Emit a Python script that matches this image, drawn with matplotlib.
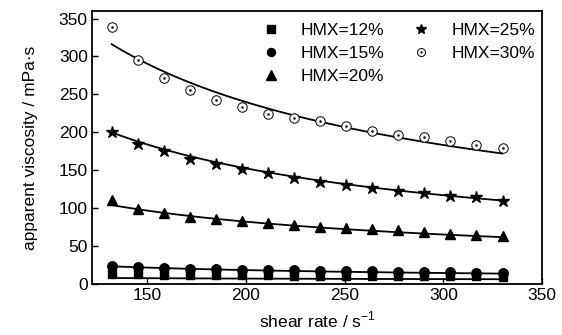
import numpy as np
import matplotlib
matplotlib.use('Agg')
from matplotlib import pyplot as plt
from matplotlib.legend_handler import HandlerTuple

plt.rcParams['font.family'] = ['Liberation Sans', 'DejaVu Sans']
plt.rcParams['mathtext.fontset'] = 'custom'
plt.rcParams['mathtext.rm'] = 'Liberation Sans'

# shear rate (s^-1)
shear = [132, 145.2, 158.4, 171.6, 184.8, 198, 211.2, 224.4, 237.6,
         250.8, 264, 277.2, 290.4, 303.6, 316.8, 330]

# apparent viscosity (mPa·s)
hmx12 = [13.0, 12.6, 12.3, 12.0, 11.8, 11.5, 11.3, 11.1, 11.0,
         10.8, 10.6, 10.5, 10.3, 10.2, 10.0, 9.8]
hmx15 = [23.5, 22.3, 21.3, 20.4, 19.6, 19.0, 18.4, 17.9, 17.4,
         16.9, 16.5, 16.0, 15.6, 15.2, 14.8, 14.4]
hmx20 = [111.0, 99.5, 93.4, 88.5, 85.9, 83.6, 80.6, 77.9, 74.9,
         73.6, 72.3, 70.9, 69.1, 66.4, 65.1, 63.8]
hmx25 = [200.4, 184.9, 174.8, 165.1, 158.5, 151.5, 146.2, 139.6, 135.1,
         129.9, 127.2, 123.2, 120.5, 116.6, 114.5, 110.0]
hmx30 = [339.1, 295.9, 271.2, 255.9, 242.7, 233.8, 224.6, 218.9, 214.4,
         208.7, 202.1, 196.8, 193.3, 188.5, 183.6, 179.2]

labels = ['HMX=12%', 'HMX=15%', 'HMX=20%', 'HMX=25%', 'HMX=30%']

# power-law fit curves: eta = K * rate^(n-1)
fit_K = [26.0, 394.0, 1675.0, 4826.0, 8090.0]
fit_n = [0.756, 0.421, 0.431, 0.348, 0.336]

fig = plt.figure(figsize=(5.62, 3.35), dpi=100)
ax = fig.add_axes([0.1637, 0.1522, 0.8007, 0.815])

gg = np.linspace(shear[0], shear[-1], 200)
for K, n in zip(fit_K, fit_n):
    ax.plot(gg, K * gg ** (n - 1), color='black', lw=1.3, zorder=2)

h12, = ax.plot(shear, hmx12, 's', color='black', ms=6.2, zorder=3)
h15, = ax.plot(shear, hmx15, 'o', color='black', ms=6.8, zorder=3)
h20, = ax.plot(shear, hmx20, '^', color='black', ms=7.8, zorder=3)
h25, = ax.plot(shear, hmx25, '*', color='black', ms=9, zorder=3)
h30, = ax.plot(shear, hmx30, 'o', mfc='white', mec='black', mew=0.7, ms=6.8, zorder=3)
h30d, = ax.plot(shear, hmx30, 'o', color='black', ms=0.8, zorder=4)

ax.set_xlim(122, 350)
ax.set_ylim(0, 360)
ax.set_xticks([150, 200, 250, 300, 350])
ax.set_yticks([0, 50, 100, 150, 200, 250, 300, 350])
ax.tick_params(direction='in', length=4, width=1, labelsize=12.5, pad=3)
for s in ax.spines.values():
    s.set_linewidth(1.3)

ax.set_xlabel('shear rate / s$^{-1}$', fontsize=12.5, labelpad=5)
ax.set_ylabel('apparent viscosity / mPa·s', fontsize=12.5, labelpad=15)

leg = ax.legend([h12, h15, h20, h25, (h30, h30d)], labels, ncol=2,
                loc='upper right', bbox_to_anchor=(1.012, 1.0), frameon=False,
                fontsize=12.5, handlelength=1.0, handletextpad=1.25,
                columnspacing=1.6, labelspacing=0.45, borderaxespad=0.3,
                markerscale=0.85,
                handler_map={tuple: HandlerTuple(ndivide=1)})

fig.savefig('out.png', dpi=100)
